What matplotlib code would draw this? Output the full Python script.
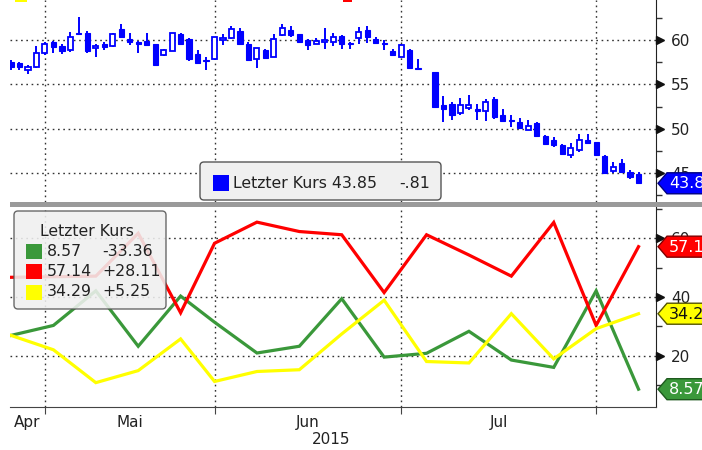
import numpy as np
import matplotlib
matplotlib.use('Agg')
import matplotlib.pyplot as plt
from matplotlib.patches import Rectangle, FancyBboxPatch, Polygon
import matplotlib.transforms as mtransforms

# Kursdaten (Handelstage ab 27.04.2015, Tag 49 fehlt im Chart)
tage = list(range(49)) + list(range(50, 75))
eroeffnung = [57.48, 57.37, 56.6, 56.92, 58.5, 59.74, 59.3, 58.87, 60.8, 60.75,
              59.06, 59.5, 59.3, 61.2, 60.08, 59.74, 59.9, 59.5, 58.3, 58.8,
              60.64, 60.08, 58.4, 57.7, 57.9, 60.0, 60.19, 61.05, 59.6, 57.9,
              58.87, 58.12, 60.56, 61.13, 60.64, 60.0, 59.6, 59.8, 59.8, 60.45,
              59.7, 60.19, 61.13, 60.1, 59.7, 58.76, 58.12, 58.87, 56.9,
              56.35, 52.7, 52.8, 51.8, 52.37, 52.1, 51.95, 53.38, 51.58, 50.94,
              50.75, 49.89, 50.68, 49.17, 48.68, 48.12, 46.99, 47.63, 48.68, 48.5,
              46.88, 45.23, 46.13, 45.11, 44.9]
hoch = [57.74, 57.55, 57.2, 59.3, 59.8, 59.9, 59.6, 60.94, 62.6, 61.05,
        59.6, 59.8, 60.75, 61.8, 60.83, 59.9, 60.83, 59.6, 59.0, 60.83,
        60.75, 60.2, 58.87, 58.1, 60.38, 60.68, 61.58, 61.4, 59.8, 59.14,
        58.95, 60.68, 61.8, 61.58, 60.7, 60.08, 60.2, 61.3, 60.83, 60.56,
        59.8, 61.43, 61.58, 60.38, 60.0, 58.95, 59.6, 58.95, 57.9,
        56.35, 53.7, 53.0, 53.46, 53.83, 52.8, 53.3, 53.57, 52.18, 51.5,
        51.2, 50.94, 50.75, 49.25, 49.06, 48.3, 48.38, 49.4, 49.36, 48.5,
        46.99, 46.24, 46.6, 45.3, 45.1]
tief = [56.6, 56.6, 56.17, 56.8, 58.3, 58.5, 58.4, 58.7, 60.6, 58.57,
        58.1, 58.87, 59.2, 60.3, 59.4, 58.5, 59.3, 57.2, 58.2, 58.8,
        59.4, 57.65, 57.37, 56.6, 57.7, 59.4, 60.08, 59.4, 57.7, 56.9,
        57.9, 58.05, 60.5, 60.38, 59.7, 58.87, 59.5, 58.95, 59.3, 58.95,
        58.95, 59.55, 59.7, 59.55, 58.87, 58.2, 58.05, 56.8, 56.6,
        52.48, 50.8, 50.94, 51.5, 52.07, 50.94, 50.83, 51.13, 50.75, 50.19,
        50.0, 49.8, 49.17, 48.2, 47.93, 47.0, 46.73, 47.37, 48.38, 46.88,
        45.0, 45.0, 45.0, 44.36, 43.85]
schluss = [57.0, 56.92, 56.99, 58.57, 59.6, 59.2, 58.8, 60.38, 60.68, 58.8,
           59.3, 59.17, 60.7, 60.38, 59.8, 59.6, 59.4, 57.2, 58.87, 60.75,
           59.6, 57.9, 57.45, 57.6, 60.3, 60.19, 61.24, 59.55, 57.8, 59.1,
           58.0, 60.08, 61.4, 60.56, 59.8, 59.44, 59.9, 60.0, 60.38, 59.6,
           59.5, 60.94, 60.3, 59.7, 59.55, 58.3, 59.44, 56.8, 56.7,
           52.48, 52.2, 51.5, 52.63, 52.63, 52.03, 53.0, 51.3, 50.83, 50.83,
           50.07, 50.26, 49.17, 48.3, 48.12, 47.18, 47.86, 48.68, 48.38, 46.99,
           45.0, 45.68, 45.11, 44.6, 43.85]

# Wochenwerte fuer das untere Panel
wochen = [0, 5, 10, 15, 20, 24, 29, 34, 39, 44, 49, 54, 59, 64, 69, 74]
gruen = [26.9, 30.3, 42.1, 23.2, 40.3, 31.4, 20.9, 23.2, 39.4, 19.5, 20.8, 28.3, 18.5, 16.0, 42.1, 8.57]
rot = [46.7, 46.9, 47.1, 61.7, 34.6, 58.3, 65.5, 62.3, 61.2, 41.5, 61.2, 54.3, 47.1, 65.4, 30.3, 57.14]
gelb = [26.9, 22.0, 10.8, 14.9, 25.7, 11.2, 14.6, 15.2, 27.4, 38.9, 18.0, 17.5, 34.3, 18.9, 29.2, 34.29]

monatsanfang = [4, 24, 46, 69]
monate = ['Apr', 'Mai', 'Jun', 'Jul']

BLAU = '#0000ff'
GRUEN = '#3a983a'
ROT = '#ff0000'
GELB = '#ffff00'
GRID = dict(color='#333333', linestyle=(0, (1.2, 2.6)), linewidth=1.0)

W, H = 702, 450
fig = plt.figure(figsize=(W / 100, H / 100), dpi=100)
pix = mtransforms.IdentityTransform()

def P(px, py):
    return (px, H - py)

ax1 = fig.add_axes([10 / W, 1 - 202 / H, 646 / W, 202 / H])
ax2 = fig.add_axes([10 / W, 1 - 407 / H, 646 / W, 201 / H])

# --- oberes Panel: Kerzen
d = np.array(tage)
o = np.array(eroeffnung); c = np.array(schluss)
hi = np.array(hoch); lo = np.array(tief)
up = c >= o
unten = np.minimum(o, c)
hoehe = np.maximum(np.abs(c - o), 0.14)
ax1.vlines(d, lo, hi, color=BLAU, lw=1.4, zorder=2)
ax1.bar(d[up], hoehe[up], bottom=unten[up], width=0.6, facecolor='white',
        edgecolor=BLAU, lw=1.3, zorder=3)
ax1.bar(d[~up], hoehe[~up], bottom=unten[~up], width=0.62, facecolor=BLAU,
        edgecolor=BLAU, lw=0.8, zorder=3)
ax1.set_xlim(-0.12, 76.06)
ax1.set_ylim(41.74, 64.51)

# --- unteres Panel: Linien
ax2.plot(wochen, gruen, color=GRUEN, lw=2.3, solid_joinstyle='miter', zorder=3)
ax2.plot(wochen, rot, color=ROT, lw=2.3, solid_joinstyle='miter', zorder=3)
ax2.plot(wochen, gelb, color=GELB, lw=2.3, solid_joinstyle='miter', zorder=3)
ax2.set_xlim(-0.12, 76.06)
ax2.set_ylim(2.5, 71)

for ax, major, minor in [(ax1, [45, 50, 55, 60], [42.5, 47.5, 52.5, 57.5, 62.5]),
                         (ax2, [20, 40, 60], [10, 30, 50, 70])]:
    ax.set_facecolor('white')
    ax.yaxis.tick_right()
    ax.set_yticks(major)
    ax.set_yticks(minor, minor=True)
    ax.tick_params(axis='y', which='major', length=0, pad=11, labelsize=11, labelcolor='#222222')
    ax.tick_params(axis='y', which='minor', length=4, width=1, color='#333333', direction='out')
    ax.set_xticks(monatsanfang)
    ax.grid(True, which='major', **GRID)
    for s in ['top', 'left']:
        ax.spines[s].set_visible(False)
    ax.spines['right'].set_color('#222222')
    # kleine Dreiecke an den Haupt-Ticks
    tr = mtransforms.offset_copy(ax.get_yaxis_transform(), fig=fig, x=4, units='dots')
    ax.plot([1.0] * len(major), major, marker='>', ls='none', ms=6, color='#111111',
            transform=tr, clip_on=False, zorder=5)

ax1.spines['bottom'].set_visible(False)
ax1.tick_params(axis='x', length=0, labelbottom=False)
ax2.spines['bottom'].set_color('#444444')
ax2.tick_params(axis='x', which='major', length=5, color='#444444', labelbottom=False)
xl = ax2.get_xlim()
grenzen = [xl[0]] + monatsanfang
mitte = [(grenzen[i] + grenzen[i + 1]) / 2 for i in range(len(monate))]
ax2.set_xticks(mitte, minor=True)
ax2.set_xticklabels(monate, minor=True)
ax2.tick_params(axis='x', which='minor', length=0, pad=6, labelsize=11, labelcolor='#222222')
fig.text(*P(331, 439), '2015', transform=pix, ha='center', va='center', fontsize=11, color='#222222')

# Trennlinie zwischen den Panels
fig.add_artist(Rectangle(P(10, 206.5), W, 4.5, transform=pix, facecolor='#9a9a9a', edgecolor='none', zorder=4))

# abgeschnittene Markierungen am oberen Rand
fig.add_artist(Rectangle(P(15, 2), 12, 2, transform=pix, facecolor=GELB, edgecolor='none'))
fig.add_artist(Rectangle(P(343, 2), 9, 2, transform=pix, facecolor=ROT, edgecolor='none'))

# Legende oberes Panel
fig.add_artist(FancyBboxPatch(P(200, 200), 241, 38, boxstyle='round,pad=0,rounding_size=4',
                              transform=pix, facecolor='#f0f0f0', edgecolor='#555555', lw=1, zorder=2))
fig.add_artist(Rectangle(P(213, 191), 16, 16, transform=pix, facecolor=BLAU, edgecolor='none', zorder=3))
fig.text(*P(233, 183), 'Letzter Kurs 43.85', transform=pix, va='center', fontsize=11.3, color='#222222')
fig.text(*P(399, 183), '-.81', transform=pix, va='center', fontsize=11.3, color='#222222')

# Legende unteres Panel
fig.add_artist(FancyBboxPatch(P(14, 309), 152, 98, boxstyle='round,pad=0,rounding_size=4',
                              transform=pix, facecolor='#f0f0f0', edgecolor='#555555', lw=1,
                              alpha=0.88, zorder=2))
fig.text(*P(40, 232), 'Letzter Kurs', transform=pix, va='center', fontsize=11.3, color='#222222', zorder=4)
eintraege = [(GRUEN, '8.57', '-33.36'), (ROT, '57.14', '+28.11'), (GELB, '34.29', '+5.25')]
for i, (farbe, wert, diff) in enumerate(eintraege):
    yy = 251 + i * 20.5
    fig.add_artist(Rectangle(P(26, yy + 7.5), 16, 15, transform=pix, facecolor=farbe, edgecolor='none', zorder=3))
    fig.text(*P(47, yy), wert, transform=pix, va='center', fontsize=11.3, color='#222222', zorder=4)
    fig.text(*P(102, yy), diff, transform=pix, va='center', fontsize=11.3, color='#222222', zorder=4)

# Wertemarken rechts
def marke(ax, wert, farbe, rand, textfarbe, text):
    y = ax.transData.transform((0, wert))[1]
    pts = [(658, y), (667, y + 10.5), (712, y + 10.5), (712, y - 10.5), (667, y - 10.5)]
    fig.add_artist(Polygon(pts, closed=True, transform=pix, facecolor=farbe, edgecolor=rand, lw=1, zorder=6))
    fig.text(669, y - 0.5, text, transform=pix, va='center', ha='left', fontsize=11.5, color=textfarbe, zorder=7)

marke(ax1, schluss[-1], BLAU, '#000080', 'white', '43.85')
marke(ax2, rot[-1], ROT, '#800000', 'white', '57.14')
marke(ax2, gelb[-1], GELB, '#555500', '#111111', '34.29')
marke(ax2, gruen[-1], GRUEN, '#1e5a1e', 'white', '8.57')

fig.savefig('out.png', dpi=100)
